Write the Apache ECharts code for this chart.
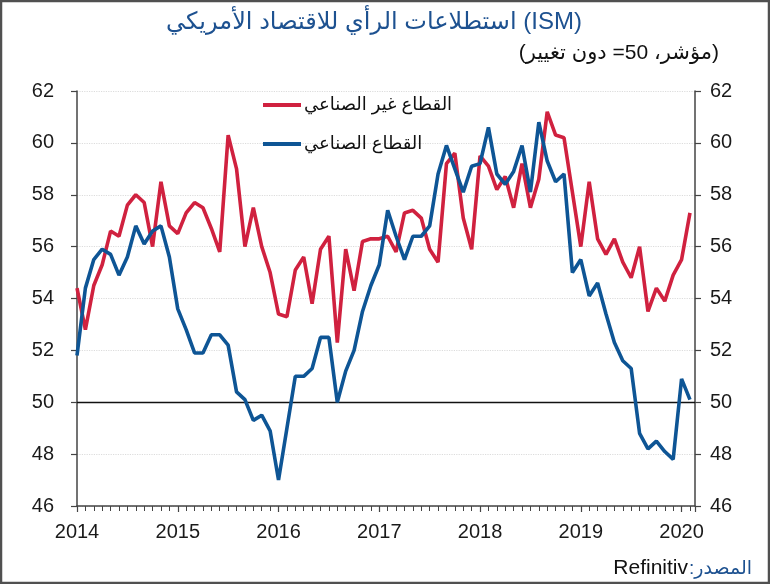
<!DOCTYPE html>
<html>
<head>
<meta charset="utf-8">
<script src="https://cdn.jsdelivr.net/npm/echarts@6/dist/echarts.min.js"></script>
<style>
html,body{margin:0;padding:0;background:#fff;}
#c{width:770px;height:584px;}
</style>
</head>
<body>
<div id="c"></div>
<script>
// Monthly data, Jan 2014 .. Feb 2020
const yearLabels = ['2014','2015','2016','2017','2018','2019','2020'];
const nonManufacturing = [
  54.4, 52.8, 54.5, 55.3, 56.6, 56.4, 57.6, 58.0, 57.7, 56.0, 58.5, 56.8,
  56.5, 57.3, 57.7, 57.5, 56.7, 55.8, 60.3, 59.0, 56.0, 57.5, 56.0, 55.0,
  53.4, 53.3, 55.1, 55.6, 53.8, 55.9, 56.4, 52.3, 55.9, 54.3, 56.2, 56.3,
  56.3, 56.4, 55.8, 57.3, 57.4, 57.1, 55.9, 55.4, 59.2, 59.6, 57.1, 55.9,
  59.5, 59.1, 58.2, 58.7, 57.5, 59.2, 57.5, 58.6, 61.2, 60.3, 60.2, 58.1,
  56.0, 58.5, 56.3, 55.7, 56.3, 55.4, 54.8, 56.0, 53.5, 54.4, 53.9, 54.9,
  55.5, 57.3
];
const manufacturing = [
  51.8, 54.4, 55.5, 55.9, 55.7, 54.9, 55.6, 56.8, 56.1, 56.6, 56.8, 55.6,
  53.6, 52.8, 51.9, 51.9, 52.6, 52.6, 52.2, 50.4, 50.1, 49.3, 49.5, 48.9,
  47.0, 49.0, 51.0, 51.0, 51.3, 52.5, 52.5, 50.0, 51.2, 52.0, 53.5, 54.5,
  55.3, 57.4, 56.4, 55.5, 56.4, 56.4, 56.8, 58.8, 59.9, 59.0, 58.1, 59.1,
  59.2, 60.6, 58.8, 58.4, 58.9, 59.9, 58.1, 60.8, 59.3, 58.5, 58.8, 55.0,
  55.5, 54.1, 54.6, 53.4, 52.3, 51.6, 51.3, 48.8, 48.2, 48.5, 48.1, 47.8,
  50.9, 50.1
];
const neutralLevel = 50;
const seriesNames = ['القطاع غير الصناعي', 'القطاع الصناعي'];
const titleText = 'استطلاعات الرأي للاقتصاد الأمريكي (ISM)';
const subtitleText = '(مؤشر، 50= دون تغيير)';
const sourceLabel = ':المصدر';
const sourceName = 'Refinitiv';

const RED = '#d0213f';
const BLUE = '#0e5595';
const FONT = '"Liberation Sans", Arial, "DejaVu Sans", sans-serif';

const chart = echarts.init(document.getElementById('c'), null, {renderer:'canvas'});

const yAxisBase = {
  type: 'value', min: 46, max: 62, interval: 2,
  axisLine: {show: true, lineStyle: {color: '#444', width: 1.5}},
  axisTick: {show: true, length: 6, lineStyle: {color: '#444', width: 1.2}},
  axisLabel: {fontSize: 20, color: '#1a1a1a', fontFamily: FONT}
};

chart.setOption({
  animation: false,
  backgroundColor: '#fff',
  grid: {left: 77, right: 75, top: 91, bottom: 78, containLabel: false},
  title: [
    {text: titleText, left: 369, top: 5, textAlign: 'center',
     textStyle: {fontSize: 24, fontWeight: 'normal', color: '#1d5190', fontFamily: FONT}},
    {text: subtitleText, right: 46, top: 38,
     textStyle: {fontSize: 21, fontWeight: 'normal', color: '#111', fontFamily: FONT}}
  ],
  legend: {
    orient: 'vertical', left: 258, top: 91, itemGap: 21,
    itemWidth: 38, itemHeight: 4, icon: 'rect',
    textStyle: {fontSize: 18, color: '#111', fontFamily: FONT, padding: [0,0,0,-2]},
    data: seriesNames
  },
  xAxis: {
    type: 'value', min: 0, max: 73.6, interval: 12,
    axisLine: {show: true, lineStyle: {color: '#444', width: 1.5}},
    axisTick: {show: true, length: 6, lineStyle: {color: '#444', width: 1.2}},
    minorTick: {show: true, splitNumber: 12, length: 5, lineStyle: {color: '#444', width: 1}},
    splitLine: {show: false},
    axisLabel: {fontSize: 20, color: '#1a1a1a', fontFamily: FONT, margin: 16,
      showMaxLabel: false,
      formatter: v => yearLabels[Math.round(v / 12)] || ''}
  },
  yAxis: [
    Object.assign({}, yAxisBase, {position: 'left',
      axisLabel: Object.assign({}, yAxisBase.axisLabel, {margin: 23}),
      splitLine: {show: true, lineStyle: {color: '#dcdcdc', type: 'dotted', width: 1.2}}}),
    Object.assign({}, yAxisBase, {position: 'right',
      axisLabel: Object.assign({}, yAxisBase.axisLabel, {margin: 15}),
      splitLine: {show: false}})
  ],
  graphic: [
    {type: 'rect', shape: {x: 1, y: 1, width: 768, height: 582},
     style: {fill: 'none', stroke: '#505050', lineWidth: 2.5}, silent: true},
    {type: 'text', right: 18, top: 559,
     style: {text: sourceLabel, fontSize: 19, fill: '#1d5190', fontFamily: FONT}},
    {type: 'text', right: 82, top: 558,
     style: {text: sourceName, fontSize: 21, fill: '#111', fontFamily: FONT}}
  ],
  series: [
    {name: seriesNames[0], type: 'line', yAxisIndex: 0, color: RED,
     symbol: 'none', lineStyle: {width: 3.6, color: RED},
     data: nonManufacturing.map((v, i) => [i, v]), z: 3},
    {name: seriesNames[1], type: 'line', yAxisIndex: 0, color: BLUE,
     symbol: 'none', lineStyle: {width: 3.6, color: BLUE},
     data: manufacturing.map((v, i) => [i, v]), z: 4,
     markLine: {silent: true, symbol: 'none', label: {show: false},
       lineStyle: {color: '#111', width: 1.3, type: 'solid'},
       data: [{yAxis: neutralLevel}], z: 2}}
  ]
});
</script>
</body>
</html>
